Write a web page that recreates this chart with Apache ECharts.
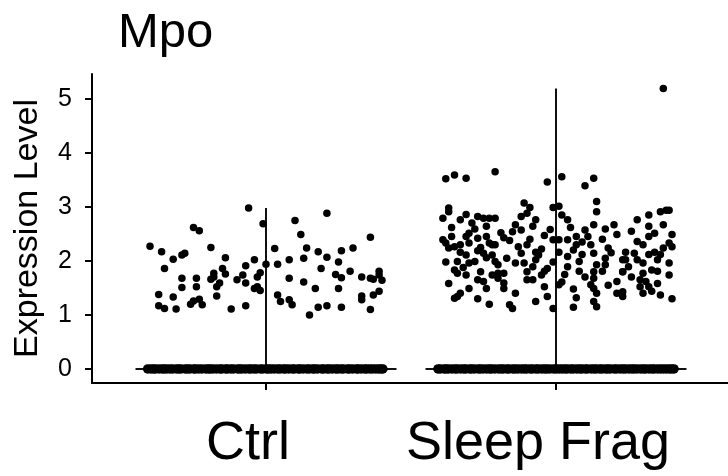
<!DOCTYPE html>
<html>
<head>
<meta charset="utf-8">
<script src="https://cdn.jsdelivr.net/npm/echarts@6/dist/echarts.min.js"></script>
<style>
  html, body { margin: 0; padding: 0; background: #fff; }
  #chart { width: 728px; height: 476px; }
</style>
</head>
<body>
<div id="chart"></div>
<script>
// Groups on the x axis
const categories = ['Ctrl', 'Sleep Frag'];
const yTicks = [0, 1, 2, 3, 4, 5];

// Expressing cells: [horizontal jitter within the group, expression level]
const ctrlCells = [
  [-0.40,2.27],[-0.36,2.17],[-0.35,1.86],[-0.37,1.38],[-0.37,1.17],[-0.35,1.12],[-0.32,2.03],[-0.32,1.33],
  [-0.31,1.11],[-0.29,2.11],[-0.28,2.14],[-0.29,1.68],[-0.29,1.51],[-0.25,2.62],[-0.23,2.56],[-0.26,1.20],
  [-0.25,1.26],[-0.24,1.68],[-0.24,1.52],[-0.23,1.29],[-0.22,1.19],[-0.19,2.25],[-0.19,1.66],[-0.18,1.77],
  [-0.18,1.70],[-0.17,1.52],[-0.17,1.35],[-0.16,1.59],[-0.15,1.86],[-0.14,2.06],[-0.14,1.76],[-0.12,1.11],
  [-0.10,1.65],[-0.07,1.91],[-0.07,1.17],[-0.07,1.59],[-0.08,1.74],[-0.06,2.98],[-0.04,2.02],[-0.04,1.49],
  [-0.03,1.70],[-0.03,1.52],[-0.02,1.78],[-0.02,1.45],[-0.01,2.69],[0.00,1.94],[0.03,2.23],[0.04,1.94],
  [0.04,1.37],[0.05,1.25],[0.08,2.02],[0.08,1.68],[0.08,1.28],[0.09,1.19],[0.10,2.75],[0.12,2.49],
  [0.13,1.61],[0.13,2.05],[0.14,2.24],[0.15,1.00],[0.17,1.49],[0.18,1.14],[0.18,2.17],[0.19,1.86],
  [0.21,2.88],[0.21,2.07],[0.21,1.17],[0.24,1.75],[0.25,1.98],[0.25,1.49],[0.26,2.19],[0.26,1.69],
  [0.26,1.14],[0.29,1.81],[0.30,2.24],[0.33,1.70],[0.33,1.35],[0.33,1.28],[0.36,2.44],[0.36,1.68],
  [0.37,1.37],[0.36,1.10],[0.37,1.66],[0.39,1.81],[0.40,1.64],[0.39,1.44],[0.39,1.74]
];
const sleepFragCells = [
  [0.37,5.19],[-0.38,3.52],[-0.35,3.59],[-0.31,3.53],[-0.21,3.65],[-0.03,3.46],[0.02,3.56],[0.10,3.39],[0.13,3.53],
  [-0.37,2.98],[-0.37,2.91],[-0.39,2.79],[-0.31,2.86],[-0.33,2.76],[-0.27,2.82],[-0.25,2.79],[-0.23,2.79],
  [-0.24,2.64],[-0.28,2.59],[-0.30,2.51],[-0.31,2.45],[-0.39,2.39],[-0.38,2.33],[-0.36,2.45],[-0.37,2.24],
  [-0.35,2.26],[-0.33,2.30],[-0.30,2.33],[-0.27,2.42],[-0.24,2.45],[-0.23,2.33],[-0.22,2.30],[-0.33,2.16],
  [-0.31,2.11],[-0.27,2.19],[-0.25,2.14],[-0.24,2.06],[-0.22,2.11],[-0.38,1.98],[-0.34,1.99],[-0.30,1.96],
  [-0.28,1.99],[-0.35,1.83],[-0.34,1.77],[-0.31,1.74],[-0.27,1.65],[-0.25,1.62],[-0.22,1.74],[-0.24,1.49],
  [-0.30,1.49],[-0.33,1.40],[-0.35,1.31],[-0.34,1.34],[-0.23,1.20],
  [-0.11,3.07],[-0.09,2.99],[-0.01,2.99],[-0.21,2.79],[-0.12,2.82],[-0.10,2.88],[-0.07,2.76],[-0.14,2.67],
  [-0.12,2.57],[-0.08,2.64],[-0.15,2.54],[-0.18,2.43],[-0.21,2.30],[-0.04,2.47],[-0.01,2.39],[-0.13,2.26],
  [-0.12,2.14],[-0.10,2.30],[-0.07,2.16],[-0.06,2.11],[-0.21,1.99],[-0.14,1.96],[-0.11,1.96],[-0.08,1.89],
  [-0.07,2.02],[-0.01,1.98],[-0.20,1.93],[-0.20,1.77],[-0.18,1.77],[-0.10,1.80],[-0.04,1.81],[-0.03,1.86],
  [-0.10,1.65],[-0.08,1.65],[-0.05,1.74],[-0.18,1.59],[-0.18,1.49],[-0.04,1.52],[-0.03,1.34],[-0.07,1.25],
  [-0.16,1.19],[-0.15,1.12],[-0.01,1.12],
  [0.14,3.10],[0.14,2.91],[0.01,3.01],[0.02,2.85],[0.04,2.76],[0.13,2.67],[0.17,2.59],[0.20,2.67],
  [0.21,2.49],[0.10,2.57],[0.11,2.45],[0.07,2.45],[0.04,2.39],[0.01,2.39],[0.12,2.30],[0.07,2.30],
  [0.18,2.24],[0.01,2.16],[0.06,2.20],[0.13,2.14],[0.09,2.12],[0.04,2.08],[0.17,2.05],[0.23,2.02],
  [0.08,1.99],[0.14,1.93],[0.17,1.93],[0.04,1.89],[0.08,1.81],[0.13,1.80],[0.16,1.81],[0.23,1.80],
  [0.03,1.75],[0.13,1.68],[0.02,1.61],[0.21,1.62],[0.12,1.56],[0.01,1.56],[0.13,1.49],[0.21,1.40],
  [0.14,1.40],[0.07,1.32],[0.06,1.14],[0.13,1.25],[0.14,1.15],
  [0.39,2.94],[0.38,2.94],[0.36,2.91],[0.32,2.85],[0.28,2.76],[0.37,2.67],[0.32,2.64],[0.40,2.49],
  [0.34,2.51],[0.32,2.45],[0.28,2.36],[0.39,2.33],[0.40,2.26],[0.37,2.24],[0.34,2.16],[0.24,2.16],
  [0.27,2.14],[0.32,2.12],[0.36,2.12],[0.24,2.02],[0.28,2.02],[0.30,1.96],[0.35,2.02],[0.39,1.96],
  [0.25,1.89],[0.33,1.83],[0.35,1.81],[0.23,1.80],[0.30,1.77],[0.39,1.74],[0.29,1.65],[0.31,1.62],
  [0.29,1.52],[0.32,1.52],[0.33,1.44],[0.23,1.43],[0.36,1.37],[0.40,1.30],[0.23,1.34],
  [-0.36,2.62],[-0.29,2.70],[-0.19,2.52],[-0.16,2.38],[-0.26,2.25],[-0.17,2.05],[-0.32,1.88],[-0.26,1.80],
  [-0.20,1.68],[-0.37,1.58],[-0.14,1.40],[-0.27,1.30],[-0.09,2.40],[-0.05,2.22],[-0.02,2.58],[0.05,2.62],
  [0.09,2.35],[0.16,2.40],[0.19,2.15],[0.10,1.70],[0.06,1.48],[0.18,1.55],[0.26,2.55],[0.30,2.30],
  [0.26,1.70],[0.35,1.58],[0.30,1.40]
];

// Non-expressing cells (level 0): horizontal jitter only
const ctrlZeroJitter = [
  -0.408,-0.397,-0.388,-0.381,-0.369,-0.358,-0.351,-0.342,-0.331,-0.322,-0.309,-0.301,-0.293,-0.279,
  -0.271,-0.262,-0.249,-0.243,-0.232,-0.221,-0.208,-0.199,-0.192,-0.183,-0.171,-0.159,-0.152,-0.139,
  -0.133,-0.121,-0.112,-0.098,-0.091,-0.083,-0.071,-0.059,-0.052,-0.041,-0.033,-0.019,-0.011,0.002,
  0.009,0.018,0.029,0.041,0.049,0.061,0.068,0.079,0.091,0.098,0.111,0.117,0.128,0.141,0.149,0.161,
  0.168,0.178,0.192,0.199,0.211,0.218,0.229,0.241,0.248,0.259,0.267,0.281,0.288,0.299,0.312,0.318,
  0.329,0.341,0.348,0.359,0.368,0.379,0.389,0.397,0.403
];
const sleepFragZeroJitter = [
  -0.407,-0.399,-0.386,-0.379,-0.371,-0.359,-0.348,-0.341,-0.329,-0.318,-0.311,-0.298,-0.291,-0.281,
  -0.268,-0.261,-0.251,-0.239,-0.229,-0.222,-0.211,-0.198,-0.189,-0.181,-0.169,-0.162,-0.149,-0.141,
  -0.131,-0.119,-0.109,-0.101,-0.089,-0.081,-0.069,-0.061,-0.049,-0.039,-0.031,-0.021,-0.008,0.001,
  0.011,0.021,0.031,0.039,0.051,0.059,0.071,0.081,0.089,0.101,0.108,0.121,0.131,0.139,0.151,0.159,
  0.171,0.179,0.188,0.201,0.209,0.221,0.231,0.239,0.251,0.261,0.269,0.279,0.291,0.301,0.309,0.321,
  0.331,0.339,0.351,0.361,0.371,0.381,0.391,0.399,0.407
];

// Collapsed violin: full half-width at level 0
const violinHalfWidth = [0.45, 0.45];

const groups = [
  { cells: ctrlCells, zeros: ctrlZeroJitter },
  { cells: sleepFragCells, zeros: sleepFragZeroJitter }
];

const series = [];
groups.forEach((g, i) => {
  const center = i + 1;
  const maxLevel = Math.max(...g.cells.map(c => c[1]));
  const w = violinHalfWidth[i];
  series.push({
    type: 'line', silent: true, symbol: 'none', z: 2,
    lineStyle: { color: '#111', width: 2 },
    data: [[center - w, 0], [center + w, 0]]
  });
  series.push({
    type: 'line', silent: true, symbol: 'none', z: 2,
    lineStyle: { color: '#111', width: 2 },
    data: [[center, 0], [center, maxLevel]]
  });
  series.push({
    type: 'scatter', z: 3, silent: true,
    symbol: 'circle', symbolSize: 9.5,
    itemStyle: { color: '#000', opacity: 1 },
    data: g.zeros.map(j => [center + j, 0])
  });
  series.push({
    type: 'scatter', z: 3, silent: true,
    symbol: 'circle', symbolSize: 7.5,
    itemStyle: { color: '#000', opacity: 1 },
    data: g.cells.map(c => [center + c[0], c[1]])
  });
});

const chart = echarts.init(document.getElementById('chart'), null, { renderer: 'canvas' });
chart.setOption({
  animation: false,
  backgroundColor: '#fff',
  title: {
    text: 'Mpo', left: 113, top: 4,
    textStyle: { fontFamily: 'Liberation Sans', fontSize: 49, fontWeight: 'normal', color: '#000' }
  },
  grid: { left: 92, right: -2, top: 74, bottom: 93, outerBoundsMode: 'none' },
  xAxis: {
    type: 'value', min: 0.4, max: 2.6, position: 'bottom',
    splitLine: { show: false },
    axisLine: { onZero: false, lineStyle: { color: '#000', width: 2 } },
    axisTick: { show: true, length: 7, lineStyle: { color: '#000', width: 2 }, customValues: [1, 2] },
    axisLabel: {
      customValues: [1, 2],
      formatter: v => categories[Math.round(v) - 1],
      fontFamily: 'Liberation Sans', fontSize: 54, color: '#000',
      margin: 34, padding: [0, 36, 0, 0]
    }
  },
  yAxis: {
    type: 'value', min: -0.26, max: 5.46,
    name: 'Expression Level', nameLocation: 'middle', nameGap: 47,
    nameTextStyle: { fontFamily: 'Liberation Sans', fontSize: 34, color: '#000' },
    splitLine: { show: false },
    axisLine: { show: true, onZero: false, lineStyle: { color: '#000', width: 2 } },
    axisTick: { show: true, length: 7, lineStyle: { color: '#000', width: 2 }, customValues: yTicks },
    axisLabel: {
      customValues: yTicks,
      fontFamily: 'Liberation Sans', fontSize: 25, color: '#000', margin: 20
    }
  },
  series: series
});
</script>
</body>
</html>
